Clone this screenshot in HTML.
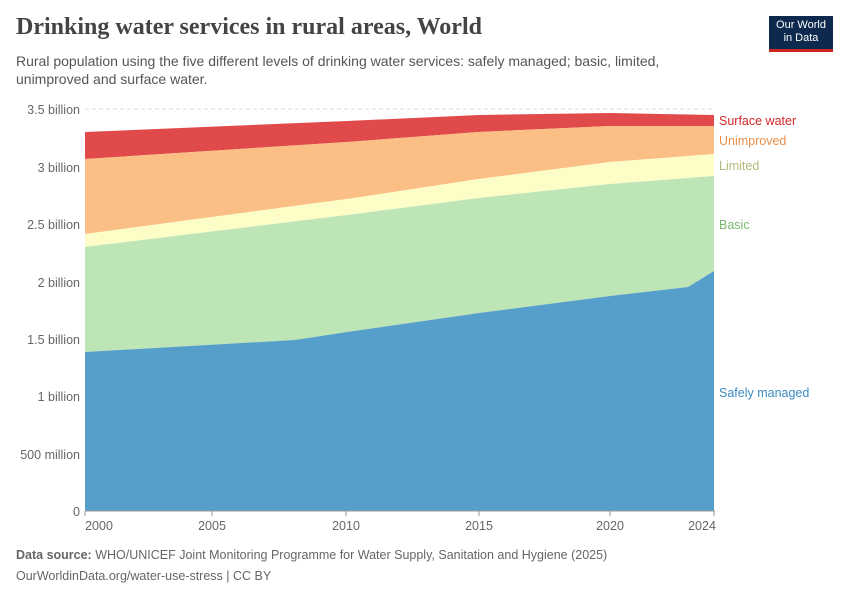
<!DOCTYPE html>
<html><head><meta charset="utf-8"><style>
body{margin:0;background:#fff;font-family:"Liberation Sans",sans-serif;}
.wrap{position:relative;width:850px;height:600px;overflow:hidden}
.title{position:absolute;left:16px;top:14px;font-family:"Liberation Serif",serif;font-size:24px;font-weight:bold;color:#444}
.sub{position:absolute;left:16px;top:52px;font-size:14px;color:#555;line-height:18px;width:700px}
.logo{position:absolute;left:769px;top:16px;width:64px;height:36px;background:#0d2a4e;color:#fff;font-size:11px;text-align:center;line-height:13px;padding-top:3px;box-sizing:border-box;border-bottom:3px solid #ce261e}
.foot{position:absolute;left:16px;font-size:12.5px;color:#666}
</style></head><body><div class="wrap">
<div class="title">Drinking water services in rural areas, World</div>
<div class="sub">Rural population using the five different levels of drinking water services: safely managed; basic, limited, unimproved and surface water.</div>
<div class="logo">Our World<br>in Data</div>
<svg width="850" height="600" style="position:absolute;left:0;top:0" font-family="Liberation Sans,sans-serif">
<g stroke="#ddd" stroke-dasharray="4,3">
<line x1="85" x2="715" y1="109" y2="109"/><line x1="85" x2="715" y1="167" y2="167"/><line x1="85" x2="715" y1="224" y2="224"/><line x1="85" x2="715" y1="282" y2="282"/><line x1="85" x2="715" y1="339" y2="339"/><line x1="85" x2="715" y1="396" y2="396"/><line x1="85" x2="715" y1="454" y2="454"/>
</g>
<polygon fill="#e04a4a" points="85,132 347,121 479,115 610,113 714,115 714,126 610,126 479,132 347,142 85,159"/>
<polygon fill="#fbbf85" points="85,159 347,142 479,132 610,126 714,126 714,154 610,162 479,179 347,199 85,234"/>
<polygon fill="#fdfdc7" points="85,234 347,199 479,179 610,162 714,154 714,176 610,184 479,198 347,215 85,247"/>
<polygon fill="#bde5b6" points="85,247 347,215 479,198 610,184 714,176 714,271 688,287 610,296 479,313 347,332 295,340 85,352"/>
<polygon fill="#579fcb" points="85,352 295,340 347,332 479,313 610,296 688,287 714,271 714,511 85,511"/>
<line x1="85" x2="715" y1="511" y2="511" stroke="#999"/>
<g stroke="#999"><line x1="85" x2="85" y1="511" y2="516"/><line x1="212" x2="212" y1="511" y2="516"/><line x1="346" x2="346" y1="511" y2="516"/><line x1="479" x2="479" y1="511" y2="516"/><line x1="610" x2="610" y1="511" y2="516"/><line x1="714" x2="714" y1="511" y2="516"/></g>
<g fill="#666" font-size="12.5" text-anchor="end">
<text x="80" y="114">3.5 billion</text><text x="80" y="172">3 billion</text><text x="80" y="229">2.5 billion</text><text x="80" y="287">2 billion</text><text x="80" y="344">1.5 billion</text><text x="80" y="401">1 billion</text><text x="80" y="459">500 million</text><text x="80" y="516">0</text>
</g>
<g fill="#666" font-size="12.5" text-anchor="middle">
<text x="99" y="530">2000</text><text x="212" y="530">2005</text><text x="346" y="530">2010</text><text x="479" y="530">2015</text><text x="610" y="530">2020</text><text x="702" y="530">2024</text>
</g>
<g font-size="12.5">
<text x="719" y="125" fill="#d62728">Surface water</text>
<text x="719" y="145" fill="#e8904a">Unimproved</text>
<text x="719" y="170" fill="#b5b87a">Limited</text>
<text x="719" y="229" fill="#7ab86f">Basic</text>
<text x="719" y="397" fill="#3b8bc2">Safely managed</text>
</g>
</svg>
<div class="foot" style="top:548px"><b>Data source:</b> WHO/UNICEF Joint Monitoring Programme for Water Supply, Sanitation and Hygiene (2025)</div>
<div class="foot" style="top:569px">OurWorldinData.org/water-use-stress | CC BY</div>
</div></body></html>
